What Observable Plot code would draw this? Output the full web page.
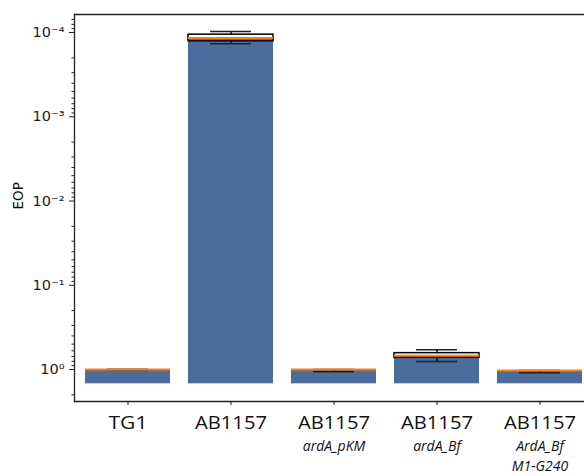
<!DOCTYPE html>
<html>
<head>
<meta charset="utf-8">
<script src="https://cdn.jsdelivr.net/npm/d3@7"></script>
<script src="https://cdn.jsdelivr.net/npm/@observablehq/plot@0.6"></script>
<style>
  html, body { margin: 0; padding: 0; background: #fff; overflow: hidden; }
</style>
</head>
<body>
<div id="chart"></div>
<script>
// ---- data ----
const categories = ["TG1", "AB1157", "AB1157 ardA_pKM", "AB1157 ardA_Bf", "AB1157 ArdA_Bf M1-G240"];
const mainLabels = ["TG1", "AB1157", "AB1157", "AB1157", "AB1157"];
const subLabels1 = ["", "", "ardA_pKM", "ardA_Bf", "ArdA_Bf"];
const subLabels2 = ["", "", "", "", "M1-G240"];
const barTop      = [1.0, 1.16e-4, 1.0,   0.687, 1.03];
const whiskerLow  = [1.0, 9.7e-5,  1.0,   0.584, 1.03];
const q1          = [1.0, 1.06e-4, 1.0,   0.640, 1.03];
const median      = [1.0, 1.16e-4, 1.0,   0.687, 1.03];
const q3          = [1.0, 1.27e-4, 1.0,   0.726, 1.03];
const whiskerHigh = [1.0, 1.36e-4, 1.065, 0.803, 1.09];
const barBase = 1.48;
const majorTicks = [1e-4, 1e-3, 1e-2, 1e-1, 1];
const majorTickLabels = ["10\u207B\u2074", "10\u207B\u00B3", "10\u207B\u00B2", "10\u207B\u00B9", "10\u2070"];
const yLabel = "EOP";

const yDomain = [Math.pow(10, 0.380), Math.pow(10, -4.214)];

const rows = categories.map((c, i) => ({
  cat: c, base: barBase, top: barTop[i], lo: whiskerLow[i], q1: q1[i],
  med: median[i], q3: q3[i], hi: whiskerHigh[i],
  sub1: subLabels1[i], sub2: subLabels2[i]
}));

const minorTicks = [];
for (let e = -5; e <= 0; e++) for (let m = 2; m <= 9; m++) {
  const v = m * Math.pow(10, e);
  if (v > yDomain[1] && v < yDomain[0]) minorTicks.push(v);
}

const blue = "#4c6c9c";
const orange = "#ff7f0e";

const chart = Plot.plot({
  width: 584,
  height: 476,
  marginLeft: 74,
  marginRight: 0,
  marginTop: 14,
  marginBottom: 75,
  style: {fontFamily: "DejaVu Sans", background: "#fff"},
  x: {domain: categories, range: [74, 593], paddingInner: 0.17, paddingOuter: 0.095, label: null},
  y: {type: "log", domain: yDomain, label: null},
  marks: [
    Plot.barY(rows, {x: "cat", y1: "base", y2: "top", fill: blue, inset: 0}),
    Plot.ruleX(rows, {x: "cat", y1: "q3", y2: "hi", stroke: "#111", strokeWidth: 1.5}),
    Plot.ruleX(rows, {x: "cat", y1: "lo", y2: "q1", stroke: "#111", strokeWidth: 1.5}),
    Plot.tickY(rows, {x: "cat", y: "lo", stroke: "#222", strokeWidth: 1.5, insetLeft: 22, insetRight: 22}),
    Plot.tickY(rows, {x: "cat", y: "hi", stroke: "#222", strokeWidth: 1.5, insetLeft: 22, insetRight: 22}),
    Plot.barY(rows, {x: "cat", y1: "q1", y2: "q3", fill: "none", stroke: "#000", strokeWidth: 1.5, inset: 0}),
    Plot.tickY(rows, {x: "cat", y: "med", stroke: orange, strokeWidth: 2}),
    Plot.frame({anchor: "top", stroke: "#222", strokeWidth: 1.3}),
    Plot.frame({anchor: "left", stroke: "#222", strokeWidth: 1.3}),
    Plot.frame({anchor: "bottom", stroke: "#222", strokeWidth: 1.3}),
    Plot.axisY({ticks: minorTicks, tickSize: 2.5, tickFormat: () => "", label: null, stroke: "#222"}),
    Plot.axisY({ticks: majorTicks, tickSize: 5, tickPadding: 5, fontSize: 14.5, label: null,
      tickFormat: (d) => majorTickLabels[majorTicks.findIndex(t => Math.abs(Math.log10(t) - Math.log10(d)) < 1e-6)],
      stroke: "#222", fill: "#222"}),
    Plot.axisX({tickSize: 4, tickPadding: 10, fontSize: 18.5, fontFamily: "Open Sans", label: null,
      tickFormat: (d) => mainLabels[categories.indexOf(d)], fill: "#111", stroke: "#222"}),
    Plot.text(rows.filter(d => d.sub1), {x: "cat", text: "sub1", frameAnchor: "bottom", dy: 49.5,
      fontSize: 14, fontStyle: "italic", fontFamily: "Open Sans", fill: "#111", ariaLabel: "sub1"}),
    Plot.text(rows.filter(d => d.sub2), {x: "cat", text: "sub2", frameAnchor: "bottom", dy: 69.5,
      fontSize: 14, fontStyle: "italic", fontFamily: "Open Sans", fill: "#111", ariaLabel: "sub2"}),
    Plot.text([yLabel], {frameAnchor: "left", text: d => d, rotate: -90, dx: -56, dy: 1.5,
      fontSize: 13.5, fontFamily: "DejaVu Sans", fill: "#111"})
  ]
});

document.getElementById("chart").appendChild(chart);

// stretch the category labels horizontally as in the reference
const mainWidths = {"TG1": 39, "AB1157": 72};
d3.select(chart).selectAll('g[aria-label="x-axis tick label"] text').each(function () {
  const t = this.textContent;
  if (mainWidths[t]) d3.select(this).attr("textLength", mainWidths[t]).attr("lengthAdjust", "spacingAndGlyphs");
});
const subWidths = {"ardA_pKM": 79, "ardA_Bf": 67, "ArdA_Bf": 60, "M1-G240": 70};
d3.select(chart).selectAll('g[aria-label="sub1"] text, g[aria-label="sub2"] text').each(function () {
  const t = this.textContent;
  if (subWidths[t]) d3.select(this).attr("textLength", subWidths[t]).attr("lengthAdjust", "spacingAndGlyphs");
});
</script>
</body>
</html>
